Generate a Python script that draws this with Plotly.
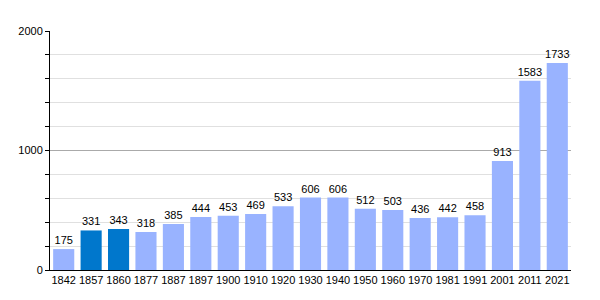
import plotly.graph_objects as go

years = ["1842", "1857", "1860", "1877", "1887", "1897", "1900", "1910", "1920", "1930",
         "1940", "1950", "1960", "1970", "1981", "1991", "2001", "2011", "2021"]
population = [175, 331, 343, 318, 385, 444, 453, 469, 533, 606,
              606, 512, 503, 436, 442, 458, 913, 1583, 1733]
highlight = ["1857", "1860"]

colors = ["#0077cc" if y in highlight else "#99b3ff" for y in years]

fig = go.Figure(go.Bar(
    x=years, y=population,
    marker=dict(color=colors, line=dict(width=0)),
    text=[str(v) for v in population],
    textposition="outside",
    textfont=dict(family="Liberation Sans, Arial", size=11, color="#000"),
    cliponaxis=False,
))

fig.update_layout(
    width=600, height=300,
    margin=dict(l=50, r=29, t=31, b=30),
    plot_bgcolor="white", paper_bgcolor="white",
    bargap=0.23,
    showlegend=False,
    uniformtext=dict(minsize=11, mode="show"),
    font=dict(family="Liberation Sans, Arial", size=11, color="#000"),
)
fig.update_xaxes(
    type="category",
    showline=True, linecolor="#000", linewidth=1,
    ticks="", showgrid=False,
    tickfont=dict(size=11),
)
fig.update_yaxes(
    range=[0, 2000],
    tickvals=[0, 1000, 2000],
    showline=True, linecolor="#000", linewidth=1,
    ticks="outside", ticklen=4, tickcolor="#000",
    showgrid=True, gridcolor="#aaaaaa", gridwidth=1,
    zeroline=False,
    minor=dict(tickvals=[200, 400, 600, 800, 1200, 1400, 1600, 1800],
               showgrid=True, gridcolor="#e0e0e0", ticks="outside",
               ticklen=4, tickcolor="#000"),
    tickfont=dict(size=11),
)

fig.write_html("out.html")
